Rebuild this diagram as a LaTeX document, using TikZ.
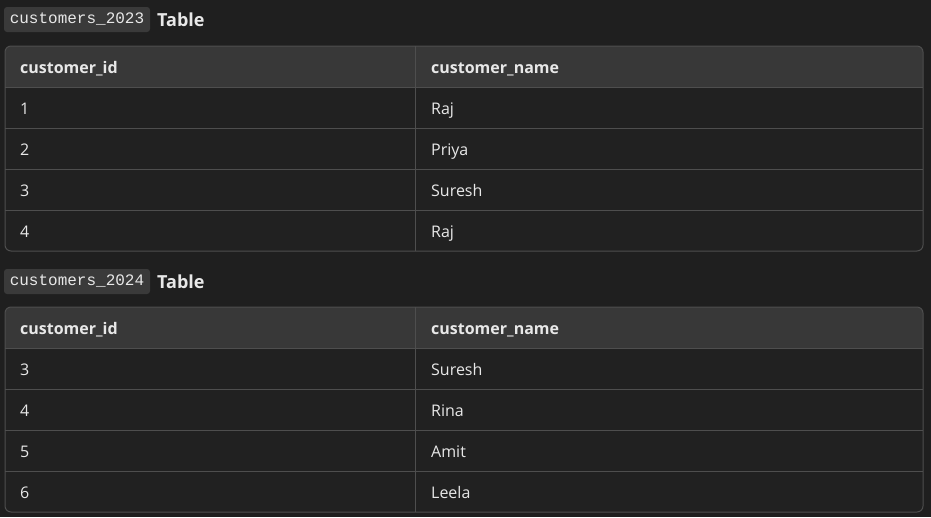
\documentclass[tikz,border=0pt]{standalone}
\usepackage{fontspec}
\setmainfont{Open Sans}
\newfontfamily\codefont{Liberation Mono}
\usetikzlibrary{positioning}

\definecolor{pagebg}{HTML}{1F1F1F}
\definecolor{bodybg}{HTML}{212121}
\definecolor{headbg}{HTML}{383838}
\definecolor{codebg}{HTML}{3A3A3A}
\definecolor{rule}{HTML}{4E4E4E}
\definecolor{txt}{HTML}{E8E8E8}

\begin{document}
\begin{tikzpicture}[x=1pt, y=-1pt,
    every node/.style={text=txt, font=\fontsize{16}{19}\selectfont},
    cell/.style={anchor=base west, inner sep=0pt},
    headcell/.style={cell, font=\fontsize{16}{19}\selectfont\bfseries},
    codebox/.style={fill=codebg, rounded corners=3pt, inner xsep=0pt, inner ysep=0pt,
        minimum width=146pt, minimum height=25pt, font=\codefont\fontsize{16}{19}\selectfont},
    title/.style={anchor=base west, inner sep=0pt, font=\fontsize{18}{21}\selectfont\bfseries},
    grid/.style={draw=rule, line width=1pt}
]
% Page
\fill[pagebg] (0,0) rectangle (931,517);

% customers_2023 title
\node (code23) [codebox] at (77,19.5) {customers\_2023};
\node (tab23) [title] at (157,26.5) {Table};

% customers_2023 frame
\begin{scope}
\clip[rounded corners=6pt] (5,46) rectangle (923,251);
\fill[bodybg] (5,46) rectangle (923,251);
\fill[headbg] (5,46) rectangle (923,87);
\end{scope}
\foreach \y in {87,128,169,210} \draw[grid] (5,\y) -- (923,\y);
\draw[grid] (415,46) -- (415,251);
\draw[grid, rounded corners=6pt] (5,46) rectangle (923,251);

% customers_2023 cells
\node (h23id) [headcell] at (20,73) {customer\_id};
\node (h23name) [headcell] at (431,73) {customer\_name};
\node (a1) [cell] at (20,114) {1};
\node (b1) [cell] at (431,114) {Raj};
\node (a2) [cell] at (20,155) {2};
\node (b2) [cell] at (431,155) {Priya};
\node (a3) [cell] at (20,196) {3};
\node (b3) [cell] at (431,196) {Suresh};
\node (a4) [cell] at (20,237) {4};
\node (b4) [cell] at (431,237) {Raj};

% customers_2024 title
\node (code24) [codebox] at (77,281.5) {customers\_2024};
\node (tab24) [title] at (157,288) {Table};

% customers_2024 frame
\begin{scope}
\clip[rounded corners=6pt] (5,307) rectangle (923,512);
\fill[bodybg] (5,307) rectangle (923,512);
\fill[headbg] (5,307) rectangle (923,348);
\end{scope}
\foreach \y in {348,389,430,471} \draw[grid] (5,\y) -- (923,\y);
\draw[grid] (415,307) -- (415,512);
\draw[grid, rounded corners=6pt] (5,307) rectangle (923,512);

% customers_2024 cells
\node (h24id) [headcell] at (20,334) {customer\_id};
\node (h24name) [headcell] at (431,334) {customer\_name};
\node (c1) [cell] at (20,375) {3};
\node (d1) [cell] at (431,375) {Suresh};
\node (c2) [cell] at (20,416) {4};
\node (d2) [cell] at (431,416) {Rina};
\node (c3) [cell] at (20,457) {5};
\node (d3) [cell] at (431,457) {Amit};
\node (c4) [cell] at (20,498) {6};
\node (d4) [cell] at (431,498) {Leela};

\end{tikzpicture}
\end{document}
